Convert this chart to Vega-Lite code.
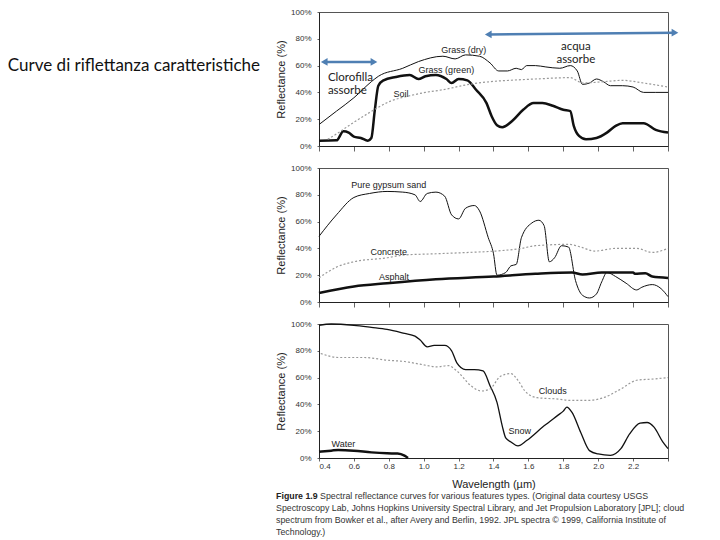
{
  "$schema": "https://vega.github.io/schema/vega-lite/v6.json",
  "padding": {"left": 7, "top": 7, "right": 5, "bottom": 5},
  "spacing": 11,
  "background": "white",
  "config": {
    "view": {"stroke": "#555", "strokeWidth": 1},
    "axis": {"labelFont": "Liberation Sans", "titleFont": "Liberation Sans", "grid": false, "domainColor": "#222", "tickColor": "#666", "labelColor": "#333", "titleColor": "#222", "titleFontWeight": "normal", "labelFontSize": 8, "titleFontSize": 11, "labelOverlap": false},
    "text": {"font": "Liberation Sans"},
    "line": {"interpolate": "monotone"}
  },
  "datasets": {
    "curves": [
      {"p": 1, "s": "Grass (dry)", "wl": 0.4, "r": 16},
      {"p": 1, "s": "Grass (dry)", "wl": 0.5, "r": 26},
      {"p": 1, "s": "Grass (dry)", "wl": 0.6, "r": 36},
      {"p": 1, "s": "Grass (dry)", "wl": 0.7, "r": 48},
      {"p": 1, "s": "Grass (dry)", "wl": 0.74, "r": 52},
      {"p": 1, "s": "Grass (dry)", "wl": 0.88, "r": 58},
      {"p": 1, "s": "Grass (dry)", "wl": 0.97, "r": 63},
      {"p": 1, "s": "Grass (dry)", "wl": 1.11, "r": 67},
      {"p": 1, "s": "Grass (dry)", "wl": 1.18, "r": 65},
      {"p": 1, "s": "Grass (dry)", "wl": 1.24, "r": 68},
      {"p": 1, "s": "Grass (dry)", "wl": 1.32, "r": 67},
      {"p": 1, "s": "Grass (dry)", "wl": 1.38, "r": 62},
      {"p": 1, "s": "Grass (dry)", "wl": 1.43, "r": 56},
      {"p": 1, "s": "Grass (dry)", "wl": 1.48, "r": 56},
      {"p": 1, "s": "Grass (dry)", "wl": 1.53, "r": 58},
      {"p": 1, "s": "Grass (dry)", "wl": 1.56, "r": 57},
      {"p": 1, "s": "Grass (dry)", "wl": 1.59, "r": 60},
      {"p": 1, "s": "Grass (dry)", "wl": 1.64, "r": 60},
      {"p": 1, "s": "Grass (dry)", "wl": 1.7, "r": 59},
      {"p": 1, "s": "Grass (dry)", "wl": 1.78, "r": 58},
      {"p": 1, "s": "Grass (dry)", "wl": 1.84, "r": 60},
      {"p": 1, "s": "Grass (dry)", "wl": 1.88, "r": 56},
      {"p": 1, "s": "Grass (dry)", "wl": 1.91, "r": 46},
      {"p": 1, "s": "Grass (dry)", "wl": 1.95, "r": 47},
      {"p": 1, "s": "Grass (dry)", "wl": 1.99, "r": 50},
      {"p": 1, "s": "Grass (dry)", "wl": 2.03, "r": 48},
      {"p": 1, "s": "Grass (dry)", "wl": 2.07, "r": 45},
      {"p": 1, "s": "Grass (dry)", "wl": 2.14, "r": 45},
      {"p": 1, "s": "Grass (dry)", "wl": 2.2, "r": 44},
      {"p": 1, "s": "Grass (dry)", "wl": 2.26, "r": 40},
      {"p": 1, "s": "Grass (dry)", "wl": 2.33, "r": 40},
      {"p": 1, "s": "Grass (dry)", "wl": 2.4, "r": 40},

      {"p": 1, "s": "Grass (green)", "wl": 0.4, "r": 4},
      {"p": 1, "s": "Grass (green)", "wl": 0.5, "r": 4.2},
      {"p": 1, "s": "Grass (green)", "wl": 0.54, "r": 11},
      {"p": 1, "s": "Grass (green)", "wl": 0.57, "r": 10},
      {"p": 1, "s": "Grass (green)", "wl": 0.6, "r": 7},
      {"p": 1, "s": "Grass (green)", "wl": 0.64, "r": 6},
      {"p": 1, "s": "Grass (green)", "wl": 0.68, "r": 4},
      {"p": 1, "s": "Grass (green)", "wl": 0.7, "r": 6},
      {"p": 1, "s": "Grass (green)", "wl": 0.72, "r": 27},
      {"p": 1, "s": "Grass (green)", "wl": 0.74, "r": 45},
      {"p": 1, "s": "Grass (green)", "wl": 0.77, "r": 49},
      {"p": 1, "s": "Grass (green)", "wl": 0.84, "r": 51.5},
      {"p": 1, "s": "Grass (green)", "wl": 0.92, "r": 53},
      {"p": 1, "s": "Grass (green)", "wl": 0.97, "r": 50},
      {"p": 1, "s": "Grass (green)", "wl": 1.01, "r": 52},
      {"p": 1, "s": "Grass (green)", "wl": 1.07, "r": 53},
      {"p": 1, "s": "Grass (green)", "wl": 1.13, "r": 50},
      {"p": 1, "s": "Grass (green)", "wl": 1.16, "r": 47},
      {"p": 1, "s": "Grass (green)", "wl": 1.2, "r": 50},
      {"p": 1, "s": "Grass (green)", "wl": 1.25, "r": 49},
      {"p": 1, "s": "Grass (green)", "wl": 1.3, "r": 42},
      {"p": 1, "s": "Grass (green)", "wl": 1.36, "r": 32},
      {"p": 1, "s": "Grass (green)", "wl": 1.39, "r": 22},
      {"p": 1, "s": "Grass (green)", "wl": 1.42, "r": 15.5},
      {"p": 1, "s": "Grass (green)", "wl": 1.45, "r": 14},
      {"p": 1, "s": "Grass (green)", "wl": 1.51, "r": 19},
      {"p": 1, "s": "Grass (green)", "wl": 1.57, "r": 27},
      {"p": 1, "s": "Grass (green)", "wl": 1.63, "r": 32},
      {"p": 1, "s": "Grass (green)", "wl": 1.68, "r": 32},
      {"p": 1, "s": "Grass (green)", "wl": 1.74, "r": 30},
      {"p": 1, "s": "Grass (green)", "wl": 1.8, "r": 27},
      {"p": 1, "s": "Grass (green)", "wl": 1.84, "r": 26},
      {"p": 1, "s": "Grass (green)", "wl": 1.86, "r": 15},
      {"p": 1, "s": "Grass (green)", "wl": 1.89, "r": 7.5},
      {"p": 1, "s": "Grass (green)", "wl": 1.93, "r": 5},
      {"p": 1, "s": "Grass (green)", "wl": 1.99, "r": 6},
      {"p": 1, "s": "Grass (green)", "wl": 2.05, "r": 10},
      {"p": 1, "s": "Grass (green)", "wl": 2.1, "r": 15},
      {"p": 1, "s": "Grass (green)", "wl": 2.14, "r": 17},
      {"p": 1, "s": "Grass (green)", "wl": 2.26, "r": 17},
      {"p": 1, "s": "Grass (green)", "wl": 2.33, "r": 12},
      {"p": 1, "s": "Grass (green)", "wl": 2.4, "r": 10},

      {"p": 1, "s": "Soil", "wl": 0.45, "r": 5},
      {"p": 1, "s": "Soil", "wl": 0.5, "r": 9},
      {"p": 1, "s": "Soil", "wl": 0.58, "r": 16},
      {"p": 1, "s": "Soil", "wl": 0.69, "r": 25},
      {"p": 1, "s": "Soil", "wl": 0.81, "r": 33.5},
      {"p": 1, "s": "Soil", "wl": 0.92, "r": 37.5},
      {"p": 1, "s": "Soil", "wl": 1.01, "r": 40},
      {"p": 1, "s": "Soil", "wl": 1.11, "r": 42},
      {"p": 1, "s": "Soil", "wl": 1.26, "r": 46},
      {"p": 1, "s": "Soil", "wl": 1.38, "r": 48},
      {"p": 1, "s": "Soil", "wl": 1.49, "r": 49},
      {"p": 1, "s": "Soil", "wl": 1.64, "r": 50},
      {"p": 1, "s": "Soil", "wl": 1.84, "r": 51},
      {"p": 1, "s": "Soil", "wl": 1.91, "r": 47},
      {"p": 1, "s": "Soil", "wl": 2.03, "r": 48},
      {"p": 1, "s": "Soil", "wl": 2.14, "r": 49},
      {"p": 1, "s": "Soil", "wl": 2.26, "r": 47},
      {"p": 1, "s": "Soil", "wl": 2.4, "r": 44},

      {"p": 2, "s": "Pure gypsum sand", "wl": 0.4, "r": 49},
      {"p": 2, "s": "Pure gypsum sand", "wl": 0.5, "r": 65},
      {"p": 2, "s": "Pure gypsum sand", "wl": 0.6, "r": 78},
      {"p": 2, "s": "Pure gypsum sand", "wl": 0.69, "r": 81},
      {"p": 2, "s": "Pure gypsum sand", "wl": 0.79, "r": 82.5},
      {"p": 2, "s": "Pure gypsum sand", "wl": 0.88, "r": 82},
      {"p": 2, "s": "Pure gypsum sand", "wl": 0.95, "r": 80},
      {"p": 2, "s": "Pure gypsum sand", "wl": 0.98, "r": 75},
      {"p": 2, "s": "Pure gypsum sand", "wl": 1.02, "r": 81},
      {"p": 2, "s": "Pure gypsum sand", "wl": 1.07, "r": 82},
      {"p": 2, "s": "Pure gypsum sand", "wl": 1.12, "r": 79},
      {"p": 2, "s": "Pure gypsum sand", "wl": 1.16, "r": 65},
      {"p": 2, "s": "Pure gypsum sand", "wl": 1.2, "r": 62},
      {"p": 2, "s": "Pure gypsum sand", "wl": 1.24, "r": 70},
      {"p": 2, "s": "Pure gypsum sand", "wl": 1.29, "r": 72},
      {"p": 2, "s": "Pure gypsum sand", "wl": 1.32, "r": 68},
      {"p": 2, "s": "Pure gypsum sand", "wl": 1.37, "r": 48},
      {"p": 2, "s": "Pure gypsum sand", "wl": 1.4, "r": 36},
      {"p": 2, "s": "Pure gypsum sand", "wl": 1.42, "r": 20},
      {"p": 2, "s": "Pure gypsum sand", "wl": 1.47, "r": 22},
      {"p": 2, "s": "Pure gypsum sand", "wl": 1.5, "r": 27},
      {"p": 2, "s": "Pure gypsum sand", "wl": 1.53, "r": 28},
      {"p": 2, "s": "Pure gypsum sand", "wl": 1.56, "r": 48},
      {"p": 2, "s": "Pure gypsum sand", "wl": 1.62, "r": 59},
      {"p": 2, "s": "Pure gypsum sand", "wl": 1.66, "r": 61},
      {"p": 2, "s": "Pure gypsum sand", "wl": 1.69, "r": 57},
      {"p": 2, "s": "Pure gypsum sand", "wl": 1.72, "r": 30},
      {"p": 2, "s": "Pure gypsum sand", "wl": 1.75, "r": 33},
      {"p": 2, "s": "Pure gypsum sand", "wl": 1.79, "r": 42},
      {"p": 2, "s": "Pure gypsum sand", "wl": 1.83, "r": 41},
      {"p": 2, "s": "Pure gypsum sand", "wl": 1.87, "r": 16},
      {"p": 2, "s": "Pure gypsum sand", "wl": 1.91, "r": 5},
      {"p": 2, "s": "Pure gypsum sand", "wl": 1.95, "r": 3},
      {"p": 2, "s": "Pure gypsum sand", "wl": 1.99, "r": 6},
      {"p": 2, "s": "Pure gypsum sand", "wl": 2.02, "r": 15},
      {"p": 2, "s": "Pure gypsum sand", "wl": 2.05, "r": 22},
      {"p": 2, "s": "Pure gypsum sand", "wl": 2.1, "r": 19},
      {"p": 2, "s": "Pure gypsum sand", "wl": 2.16, "r": 14},
      {"p": 2, "s": "Pure gypsum sand", "wl": 2.22, "r": 9},
      {"p": 2, "s": "Pure gypsum sand", "wl": 2.25, "r": 11},
      {"p": 2, "s": "Pure gypsum sand", "wl": 2.31, "r": 13},
      {"p": 2, "s": "Pure gypsum sand", "wl": 2.36, "r": 10},
      {"p": 2, "s": "Pure gypsum sand", "wl": 2.4, "r": 4},

      {"p": 2, "s": "Concrete", "wl": 0.4, "r": 18},
      {"p": 2, "s": "Concrete", "wl": 0.5, "r": 26},
      {"p": 2, "s": "Concrete", "wl": 0.6, "r": 30},
      {"p": 2, "s": "Concrete", "wl": 0.79, "r": 33},
      {"p": 2, "s": "Concrete", "wl": 0.88, "r": 35},
      {"p": 2, "s": "Concrete", "wl": 1.07, "r": 36},
      {"p": 2, "s": "Concrete", "wl": 1.26, "r": 37},
      {"p": 2, "s": "Concrete", "wl": 1.41, "r": 38},
      {"p": 2, "s": "Concrete", "wl": 1.56, "r": 40},
      {"p": 2, "s": "Concrete", "wl": 1.64, "r": 42},
      {"p": 2, "s": "Concrete", "wl": 1.83, "r": 43},
      {"p": 2, "s": "Concrete", "wl": 1.9, "r": 41},
      {"p": 2, "s": "Concrete", "wl": 1.98, "r": 38},
      {"p": 2, "s": "Concrete", "wl": 2.1, "r": 40},
      {"p": 2, "s": "Concrete", "wl": 2.22, "r": 40},
      {"p": 2, "s": "Concrete", "wl": 2.31, "r": 37},
      {"p": 2, "s": "Concrete", "wl": 2.4, "r": 40},

      {"p": 2, "s": "Asphalt", "wl": 0.4, "r": 6.7},
      {"p": 2, "s": "Asphalt", "wl": 0.6, "r": 11.6},
      {"p": 2, "s": "Asphalt", "wl": 0.79, "r": 14},
      {"p": 2, "s": "Asphalt", "wl": 1.07, "r": 17},
      {"p": 2, "s": "Asphalt", "wl": 1.4, "r": 19},
      {"p": 2, "s": "Asphalt", "wl": 1.64, "r": 21},
      {"p": 2, "s": "Asphalt", "wl": 1.85, "r": 22},
      {"p": 2, "s": "Asphalt", "wl": 1.91, "r": 20.5},
      {"p": 2, "s": "Asphalt", "wl": 2.02, "r": 22},
      {"p": 2, "s": "Asphalt", "wl": 2.2, "r": 22},
      {"p": 2, "s": "Asphalt", "wl": 2.21, "r": 21},
      {"p": 2, "s": "Asphalt", "wl": 2.27, "r": 21.5},
      {"p": 2, "s": "Asphalt", "wl": 2.31, "r": 19},
      {"p": 2, "s": "Asphalt", "wl": 2.4, "r": 18},

      {"p": 3, "s": "Snow", "wl": 0.4, "r": 99},
      {"p": 3, "s": "Snow", "wl": 0.47, "r": 100},
      {"p": 3, "s": "Snow", "wl": 0.6, "r": 99},
      {"p": 3, "s": "Snow", "wl": 0.7, "r": 97.5},
      {"p": 3, "s": "Snow", "wl": 0.79, "r": 96},
      {"p": 3, "s": "Snow", "wl": 0.89, "r": 93},
      {"p": 3, "s": "Snow", "wl": 0.95, "r": 91},
      {"p": 3, "s": "Snow", "wl": 0.98, "r": 88},
      {"p": 3, "s": "Snow", "wl": 1.02, "r": 83},
      {"p": 3, "s": "Snow", "wl": 1.06, "r": 84},
      {"p": 3, "s": "Snow", "wl": 1.12, "r": 84},
      {"p": 3, "s": "Snow", "wl": 1.16, "r": 80},
      {"p": 3, "s": "Snow", "wl": 1.19, "r": 71},
      {"p": 3, "s": "Snow", "wl": 1.24, "r": 66},
      {"p": 3, "s": "Snow", "wl": 1.29, "r": 66},
      {"p": 3, "s": "Snow", "wl": 1.34, "r": 65},
      {"p": 3, "s": "Snow", "wl": 1.38, "r": 54},
      {"p": 3, "s": "Snow", "wl": 1.42, "r": 41.5},
      {"p": 3, "s": "Snow", "wl": 1.45, "r": 24},
      {"p": 3, "s": "Snow", "wl": 1.47, "r": 15},
      {"p": 3, "s": "Snow", "wl": 1.5, "r": 12},
      {"p": 3, "s": "Snow", "wl": 1.54, "r": 9},
      {"p": 3, "s": "Snow", "wl": 1.59, "r": 13},
      {"p": 3, "s": "Snow", "wl": 1.69, "r": 24},
      {"p": 3, "s": "Snow", "wl": 1.77, "r": 32},
      {"p": 3, "s": "Snow", "wl": 1.8, "r": 35},
      {"p": 3, "s": "Snow", "wl": 1.82, "r": 38},
      {"p": 3, "s": "Snow", "wl": 1.85, "r": 34},
      {"p": 3, "s": "Snow", "wl": 1.9, "r": 19},
      {"p": 3, "s": "Snow", "wl": 1.95, "r": 5.5},
      {"p": 3, "s": "Snow", "wl": 2.0, "r": 3},
      {"p": 3, "s": "Snow", "wl": 2.07, "r": 2},
      {"p": 3, "s": "Snow", "wl": 2.13, "r": 7},
      {"p": 3, "s": "Snow", "wl": 2.18, "r": 18},
      {"p": 3, "s": "Snow", "wl": 2.24, "r": 26},
      {"p": 3, "s": "Snow", "wl": 2.28, "r": 26.5},
      {"p": 3, "s": "Snow", "wl": 2.32, "r": 23},
      {"p": 3, "s": "Snow", "wl": 2.37, "r": 12},
      {"p": 3, "s": "Snow", "wl": 2.4, "r": 7},

      {"p": 3, "s": "Clouds", "wl": 0.41, "r": 78},
      {"p": 3, "s": "Clouds", "wl": 0.51, "r": 75},
      {"p": 3, "s": "Clouds", "wl": 0.66, "r": 75},
      {"p": 3, "s": "Clouds", "wl": 0.79, "r": 73},
      {"p": 3, "s": "Clouds", "wl": 0.89, "r": 72},
      {"p": 3, "s": "Clouds", "wl": 0.98, "r": 70},
      {"p": 3, "s": "Clouds", "wl": 1.08, "r": 68},
      {"p": 3, "s": "Clouds", "wl": 1.14, "r": 69},
      {"p": 3, "s": "Clouds", "wl": 1.19, "r": 65},
      {"p": 3, "s": "Clouds", "wl": 1.27, "r": 54},
      {"p": 3, "s": "Clouds", "wl": 1.33, "r": 50},
      {"p": 3, "s": "Clouds", "wl": 1.38, "r": 51.5},
      {"p": 3, "s": "Clouds", "wl": 1.44, "r": 61},
      {"p": 3, "s": "Clouds", "wl": 1.5, "r": 63},
      {"p": 3, "s": "Clouds", "wl": 1.54, "r": 58},
      {"p": 3, "s": "Clouds", "wl": 1.58, "r": 50},
      {"p": 3, "s": "Clouds", "wl": 1.65, "r": 45},
      {"p": 3, "s": "Clouds", "wl": 1.77, "r": 44},
      {"p": 3, "s": "Clouds", "wl": 1.84, "r": 43},
      {"p": 3, "s": "Clouds", "wl": 1.94, "r": 43},
      {"p": 3, "s": "Clouds", "wl": 2.03, "r": 45},
      {"p": 3, "s": "Clouds", "wl": 2.13, "r": 51.5},
      {"p": 3, "s": "Clouds", "wl": 2.22, "r": 58},
      {"p": 3, "s": "Clouds", "wl": 2.32, "r": 59},
      {"p": 3, "s": "Clouds", "wl": 2.4, "r": 60},

      {"p": 3, "s": "Water", "wl": 0.4, "r": 4.7},
      {"p": 3, "s": "Water", "wl": 0.47, "r": 5.5},
      {"p": 3, "s": "Water", "wl": 0.51, "r": 6},
      {"p": 3, "s": "Water", "wl": 0.6, "r": 5.5},
      {"p": 3, "s": "Water", "wl": 0.7, "r": 4.2},
      {"p": 3, "s": "Water", "wl": 0.79, "r": 3.5},
      {"p": 3, "s": "Water", "wl": 0.85, "r": 3.3},
      {"p": 3, "s": "Water", "wl": 0.89, "r": 1.7},
      {"p": 3, "s": "Water", "wl": 0.91, "r": 0}
    ],
    "labels": [
      {"p": 1, "label": "Grass (dry)", "wl": 1.23, "r": 72},
      {"p": 1, "label": "Grass (green)", "wl": 1.13, "r": 56.5},
      {"p": 1, "label": "Soil", "wl": 0.87, "r": 39},
      {"p": 2, "label": "Pure gypsum sand", "wl": 0.8, "r": 87},
      {"p": 2, "label": "Concrete", "wl": 0.8, "r": 37},
      {"p": 2, "label": "Asphalt", "wl": 0.83, "r": 18.5},
      {"p": 3, "label": "Clouds", "wl": 1.74, "r": 50},
      {"p": 3, "label": "Snow", "wl": 1.55, "r": 20},
      {"p": 3, "label": "Water", "wl": 0.54, "r": 10.4}
    ],
    "arrows": [
      {"band": "Clorofilla", "wl": 0.43, "wl2": 0.715, "r": 62.7, "r2": 62.7},
      {"band": "acqua", "wl": 1.37, "wl2": 2.44, "r": 83.3, "r2": 84.6}
    ],
    "notes": [
      {"k": "side", "text": "Clorofilla", "wl": 0.451, "r": 51},
      {"k": "side", "text": "assorbe", "wl": 0.451, "r": 41.3},
      {"k": "mid", "text": "acqua", "wl": 1.872, "r": 73.9},
      {"k": "mid", "text": "assorbe", "wl": 1.872, "r": 64.2},
      {"k": "title", "text": "Curve di riflettanza caratteristiche", "wl": -1.383, "r": 59.5}
    ],
    "caption": [
      {"k": "bold", "text": "Figure 1.9", "wl": 0.154, "r": -28.4},
      {"k": "body", "text": "Spectral reflectance curves for various features types. (Original data courtesy USGS", "wl": 0.406, "r": -28.4},
      {"k": "body", "text": "Spectroscopy Lab, Johns Hopkins University Spectral Library, and Jet Propulsion Laboratory [JPL]; cloud", "wl": 0.154, "r": -37.3},
      {"k": "body", "text": "spectrum from Bowker et al., after Avery and Berlin, 1992. JPL spectra © 1999, California Institute of", "wl": 0.154, "r": -46.3},
      {"k": "body", "text": "Technology.)", "wl": 0.154, "r": -55.2}
    ]
  },
  "vconcat": [
    {
      "width": 349, "height": 134,
      "encoding": {
        "x": {"field": "wl", "type": "quantitative", "scale": {"domain": [0.4, 2.4], "nice": false, "zero": false}, "axis": {"values": [0.4, 0.6, 0.8, 1.0, 1.2, 1.4, 1.6, 1.8, 2.0, 2.2, 2.4], "labels": false, "title": null, "tickSize": 5}},
        "y": {"field": "r", "type": "quantitative", "scale": {"domain": [0, 100]}, "axis": {"values": [0, 20, 40, 60, 80, 100], "labelExpr": "datum.value + '%'", "title": "Reflectance (%)", "tickSize": 2, "labelPadding": 6, "titlePadding": 4}}
      },
      "layer": [
        {"data": {"name": "curves"}, "transform": [{"filter": "datum.s == 'Grass (dry)'"}], "mark": {"type": "line", "color": "#111", "strokeWidth": 1}},
        {"data": {"name": "curves"}, "transform": [{"filter": "datum.s == 'Grass (green)'"}], "mark": {"type": "line", "color": "#111", "strokeWidth": 2.5}},
        {"data": {"name": "curves"}, "transform": [{"filter": "datum.s == 'Soil'"}], "mark": {"type": "line", "color": "#999", "strokeWidth": 1.2, "strokeDash": [2, 2]}},
        {
          "data": {"name": "labels"},
          "transform": [{"filter": "datum.p == 1"}],
          "mark": {"type": "text", "fontSize": 9, "color": "#222"},
          "encoding": {"text": {"field": "label"}}
        },
        {
          "data": {"name": "arrows"},
          "mark": {"type": "rule", "color": "#4f7fb3", "strokeWidth": 2.5},
          "encoding": {"x2": {"field": "wl2"}, "y2": {"field": "r2"}}
        },
        {
          "data": {"name": "arrows"},
          "mark": {"type": "point", "shape": "triangle-left", "filled": true, "color": "#4f7fb3", "size": 60, "opacity": 1},
          "encoding": {"x": {"field": "wl", "type": "quantitative"}, "y": {"field": "r", "type": "quantitative"}}
        },
        {
          "data": {"name": "arrows"},
          "mark": {"type": "point", "shape": "triangle-right", "filled": true, "color": "#4f7fb3", "size": 60, "opacity": 1},
          "encoding": {"x": {"field": "wl2", "type": "quantitative"}, "y": {"field": "r2", "type": "quantitative"}}
        },
        {
          "data": {"name": "notes"},
          "transform": [{"filter": "datum.k == 'side'"}],
          "mark": {"type": "text", "font": "Lato", "fontSize": 11.5, "color": "#222", "align": "left", "baseline": "middle"},
          "encoding": {"text": {"field": "text"}}
        },
        {
          "data": {"name": "notes"},
          "transform": [{"filter": "datum.k == 'mid'"}],
          "mark": {"type": "text", "font": "Lato", "fontSize": 11.5, "color": "#222", "align": "center", "baseline": "middle"},
          "encoding": {"text": {"field": "text"}}
        },
        {
          "data": {"name": "notes"},
          "transform": [{"filter": "datum.k == 'title'"}],
          "mark": {"type": "text", "font": "Lato", "fontSize": 17, "color": "#111", "align": "left", "baseline": "middle"},
          "encoding": {"text": {"field": "text"}}
        }
      ]
    },
    {
      "width": 349, "height": 134,
      "encoding": {
        "x": {"field": "wl", "type": "quantitative", "scale": {"domain": [0.4, 2.4], "nice": false, "zero": false}, "axis": {"values": [0.4, 0.6, 0.8, 1.0, 1.2, 1.4, 1.6, 1.8, 2.0, 2.2, 2.4], "labels": false, "title": null, "tickSize": 5}},
        "y": {"field": "r", "type": "quantitative", "scale": {"domain": [0, 100]}, "axis": {"values": [0, 20, 40, 60, 80, 100], "labelExpr": "datum.value + '%'", "title": "Reflectance (%)", "tickSize": 2, "labelPadding": 6, "titlePadding": 4}}
      },
      "layer": [
        {"data": {"name": "curves"}, "transform": [{"filter": "datum.s == 'Pure gypsum sand'"}], "mark": {"type": "line", "color": "#111", "strokeWidth": 1}},
        {"data": {"name": "curves"}, "transform": [{"filter": "datum.s == 'Concrete'"}], "mark": {"type": "line", "color": "#999", "strokeWidth": 1.2, "strokeDash": [2, 2]}},
        {"data": {"name": "curves"}, "transform": [{"filter": "datum.s == 'Asphalt'"}], "mark": {"type": "line", "color": "#111", "strokeWidth": 2.5}},
        {
          "data": {"name": "labels"},
          "transform": [{"filter": "datum.p == 2"}],
          "mark": {"type": "text", "fontSize": 9, "color": "#222"},
          "encoding": {"text": {"field": "label"}}
        }
      ]
    },
    {
      "width": 349, "height": 134,
      "encoding": {
        "x": {"field": "wl", "type": "quantitative", "scale": {"domain": [0.4, 2.4], "nice": false, "zero": false}, "axis": {"values": [0.4, 0.6, 0.8, 1.0, 1.2, 1.4, 1.6, 1.8, 2.0, 2.2, 2.4], "labelExpr": "datum.value > 2.3 ? '' : format(datum.value, '.1f')", "title": "Wavelength (µm)", "tickSize": 3, "labelPadding": 1, "titlePadding": 8}},
        "y": {"field": "r", "type": "quantitative", "scale": {"domain": [0, 100]}, "axis": {"values": [0, 20, 40, 60, 80, 100], "labelExpr": "datum.value + '%'", "title": "Reflectance (%)", "tickSize": 2, "labelPadding": 6, "titlePadding": 4}}
      },
      "layer": [
        {"data": {"name": "curves"}, "transform": [{"filter": "datum.s == 'Snow'"}], "mark": {"type": "line", "color": "#111", "strokeWidth": 1.3}},
        {"data": {"name": "curves"}, "transform": [{"filter": "datum.s == 'Clouds'"}], "mark": {"type": "line", "color": "#999", "strokeWidth": 1.2, "strokeDash": [2, 2]}},
        {"data": {"name": "curves"}, "transform": [{"filter": "datum.s == 'Water'"}], "mark": {"type": "line", "color": "#111", "strokeWidth": 2.5}},
        {
          "data": {"name": "labels"},
          "transform": [{"filter": "datum.p == 3"}],
          "mark": {"type": "text", "fontSize": 9, "color": "#222"},
          "encoding": {"text": {"field": "label"}}
        },
        {
          "data": {"name": "caption"},
          "transform": [{"filter": "datum.k == 'bold'"}],
          "mark": {"type": "text", "fontSize": 8.8, "fontWeight": "bold", "color": "#222", "align": "left", "baseline": "middle"},
          "encoding": {"text": {"field": "text"}}
        },
        {
          "data": {"name": "caption"},
          "transform": [{"filter": "datum.k == 'body'"}],
          "mark": {"type": "text", "fontSize": 8.8, "color": "#333", "align": "left", "baseline": "middle"},
          "encoding": {"text": {"field": "text"}}
        }
      ]
    }
  ]
}
